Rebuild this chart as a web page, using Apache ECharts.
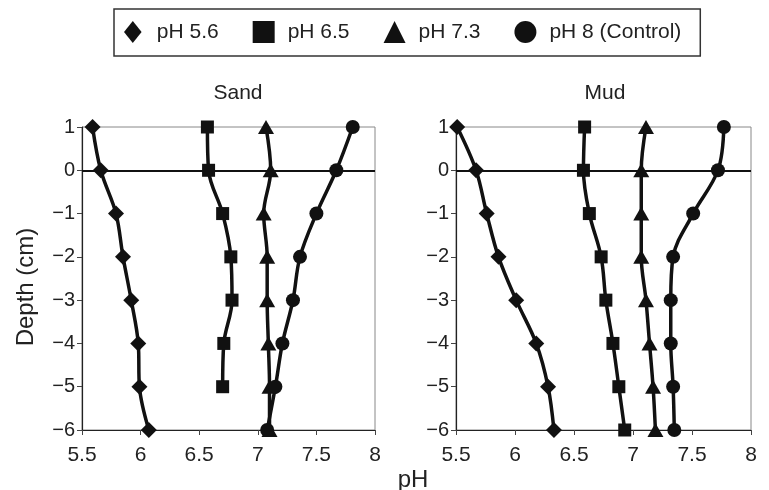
<!DOCTYPE html>
<html><head><meta charset="utf-8">
<script src="https://cdn.jsdelivr.net/npm/echarts@6/dist/echarts.min.js"></script>
<style>html,body{margin:0;padding:0;background:#fff}#c{width:769px;height:490px}</style>
</head><body><div id="c"></div>
<script>
var depth = [1, 0, -1, -2, -3, -4, -5, -6];
var seriesNames = ['pH 5.6', 'pH 6.5', 'pH 7.3', 'pH 8 (Control)'];
var sandPH56 = [5.59, 5.66, 5.79, 5.85, 5.92, 5.98, 5.99, 6.07];
var sandPH65 = [6.57, 6.58, 6.70, 6.77, 6.78, 6.71, 6.70, null];
var sandPH73 = [7.07, 7.11, 7.05, 7.08, 7.08, 7.09, 7.10, 7.10];
var sandPH8  = [7.81, 7.67, 7.50, 7.36, 7.30, 7.21, 7.15, 7.08];
var mudPH56 = [5.51, 5.67, 5.76, 5.86, 6.01, 6.18, 6.28, 6.33];
var mudPH65 = [6.59, 6.58, 6.63, 6.73, 6.77, 6.83, 6.88, 6.93];
var mudPH73 = [7.11, 7.07, 7.07, 7.07, 7.11, 7.14, 7.17, 7.19];
var mudPH8  = [7.77, 7.72, 7.51, 7.34, 7.32, 7.32, 7.34, 7.35];
var xTicks = [5.5, 6, 6.5, 7, 7.5, 8];
var yTicks = [1, 0, -1, -2, -3, -4, -5, -6];
var panelTitles = ['Sand', 'Mud'];
var xAxisTitle = 'pH';
var yAxisTitle = 'Depth (cm)';

var symbols = ['diamond', 'rect', 'triangle', 'circle'];
var legendIcons = ['path://M8,0 L16,10 L8,20 L0,10 Z', 'rect', 'triangle', 'circle'];
var symSizes = [[16, 16], 13, [16, 14], 14];
var FONT = 'Liberation Sans, Arial, sans-serif';

function pairs(vals) {
  var out = [];
  for (var i = 0; i < depth.length; i++) {
    if (vals[i] !== null) out.push([vals[i], depth[i]]);
  }
  return out;
}

var panels = [[sandPH56, sandPH65, sandPH73, sandPH8], [mudPH56, mudPH65, mudPH73, mudPH8]];
var grids = [
  {left: 82, top: 127, width: 293, height: 303, show: true, borderColor: '#888', borderWidth: 1},
  {left: 456, top: 127, width: 295, height: 303, show: true, borderColor: '#888', borderWidth: 1}
];
var xAxes = [], yAxes = [], series = [];
for (var g = 0; g < 2; g++) {
  xAxes.push({
    type: 'value', gridIndex: g, min: xTicks[0], max: xTicks[xTicks.length - 1], interval: 0.5,
    axisLine: {onZero: false, lineStyle: {color: '#222', width: 1.2}},
    axisTick: {length: 5, lineStyle: {color: '#444'}},
    splitLine: {show: false},
    axisLabel: {color: '#222', fontSize: 21, fontFamily: FONT, margin: 15}
  });
  yAxes.push({
    type: 'value', gridIndex: g, min: yTicks[yTicks.length - 1], max: yTicks[0], interval: 1,
    axisLine: {show: true, onZero: false, lineStyle: {color: '#222', width: 1.2}},
    axisTick: {show: true, length: 5, lineStyle: {color: '#444'}},
    splitLine: {show: false},
    axisLabel: {color: '#222', fontSize: 20, fontFamily: FONT, margin: 7,
      formatter: function (v) { return v < 0 ? '\u2212' + Math.abs(v) : String(v); }}
  });
  for (var s = 0; s < 4; s++) {
    var ser = {
      type: 'line', name: seriesNames[s], xAxisIndex: g, yAxisIndex: g,
      data: pairs(panels[g][s]), smooth: 0.35,
      symbol: symbols[s], symbolSize: symSizes[s], showSymbol: true,
      lineStyle: {color: '#111', width: 3.5}, itemStyle: {color: '#111'},
      z: 3
    };
    if (s === 0) {
      ser.markLine = {
        silent: true, symbol: 'none', label: {show: false},
        lineStyle: {color: '#111', width: 2, type: 'solid'},
        data: [{yAxis: 0}], z: 2
      };
    }
    series.push(ser);
  }
}
var titleStyle = {fontSize: 21, fontWeight: 'normal', color: '#222', fontFamily: FONT};
var option = {
  animation: false,
  backgroundColor: '#fff',
  title: [
    {text: panelTitles[0], left: 238, top: 83, textAlign: 'center', padding: 0, textStyle: titleStyle},
    {text: panelTitles[1], left: 605, top: 83, textAlign: 'center', padding: 0, textStyle: titleStyle},
    {text: xAxisTitle, left: 413, top: 468, textAlign: 'center', padding: 0,
     textStyle: {fontSize: 24, fontWeight: 'normal', color: '#222', fontFamily: FONT}}
  ],
  graphic: [{
    type: 'text', x: 26, y: 287, rotation: Math.PI / 2,
    style: {text: yAxisTitle, fontSize: 24, fontFamily: FONT, fill: '#222',
      textAlign: 'center', textVerticalAlign: 'middle'}
  }],
  legend: {
    left: 114, top: 9,
    padding: [12, 19, 13, 10], itemGap: 34, itemWidth: 22, itemHeight: 22,
    borderColor: '#333', borderWidth: 1.5,
    textStyle: {fontSize: 21, color: '#222', fontFamily: FONT, padding: [0, 0, 0, 8]},
    data: seriesNames.map(function (n, i) { return {name: n, icon: legendIcons[i]}; }),
    itemStyle: {color: '#111'}
  },
  grid: grids, xAxis: xAxes, yAxis: yAxes, series: series
};
var chart = echarts.init(document.getElementById('c'), null, {renderer: 'canvas'});
chart.setOption(option);
</script></body></html>
